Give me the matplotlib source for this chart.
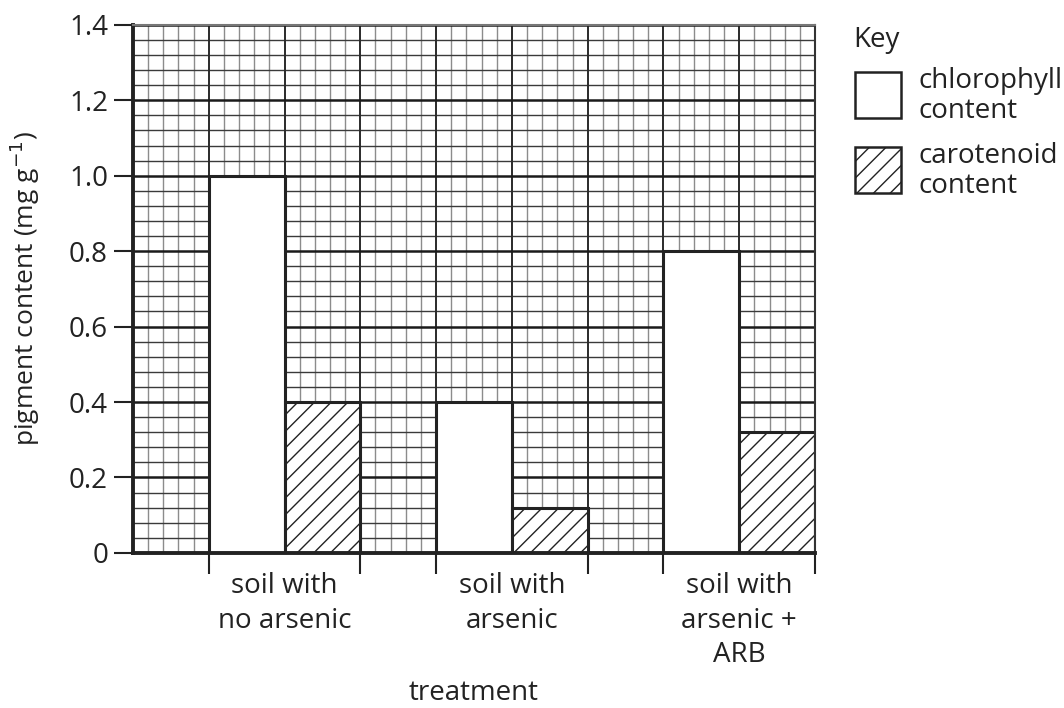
import numpy as np
import matplotlib
matplotlib.use("Agg")
import matplotlib.pyplot as plt
from matplotlib.patches import Rectangle

plt.rcParams['font.family'] = ['Open Sans', 'DejaVu Sans']
plt.rcParams['hatch.linewidth'] = 1.0

# data
treatments = ["soil with\nno arsenic", "soil with\narsenic", "soil with\narsenic +\nARB"]
chlorophyll = [1.0, 0.4, 0.8]
carotenoid = [0.4, 0.12, 0.32]
y_ticks = [0, 0.2, 0.4, 0.6, 0.8, 1.0, 1.2, 1.4]
y_ticklabels = ["0", "0.2", "0.4", "0.6", "0.8", "1.0", "1.2", "1.4"]

fs = 20
ink = "#222222"
fig = plt.figure(figsize=(10.64, 7.08), dpi=100)
ax = fig.add_axes([0.125, 0.219, 0.641, 0.746])
ax.set_xlim(0, 9)
ax.set_ylim(0, 1.4)

# graph paper background
xs = np.arange(0, 9.001, 0.2)
ys = np.arange(0, 1.401, 0.04)
minor_x = [x for x in xs if abs(x - round(x)) > 1e-6]
major_x = [x for x in xs if abs(x - round(x)) <= 1e-6]
minor_y = [y for y in ys if abs(y / 0.2 - round(y / 0.2)) > 1e-6]
major_y = [y for y in ys if abs(y / 0.2 - round(y / 0.2)) <= 1e-6]
ax.vlines(minor_x, 0, 1.4, color="#8c8c8c", lw=1.0, zorder=0)
ax.hlines(minor_y, 0, 9, color="#3a3a3a", lw=1.0, zorder=0)
ax.vlines(major_x, 0, 1.4, color="#2a2a2a", lw=1.4, zorder=0.5)
ax.hlines(major_y, 0, 9, color="#1a1a1a", lw=1.8, zorder=0.5)

# bars: group i occupies 3i..3i+3, first slot empty
centers = np.arange(len(treatments)) * 3 + 2
ax.bar(centers - 0.5, chlorophyll, width=1.0, facecolor="white",
       edgecolor=ink, lw=2.2, zorder=2)
ax.bar(centers + 0.5, carotenoid, width=1.0, facecolor="white",
       edgecolor=ink, lw=2.2, hatch="//", zorder=2)

# axes styling
for s in ["left", "bottom"]:
    ax.spines[s].set_linewidth(2.8)
    ax.spines[s].set_color(ink)
ax.spines["top"].set_color("#777777")
ax.spines["top"].set_linewidth(1.5)
ax.spines["right"].set_color("#333333")
ax.spines["right"].set_linewidth(1.5)
for s in ax.spines.values():
    s.set_zorder(3)

ax.set_yticks(y_ticks, y_ticklabels, fontsize=fs, color=ink)
ax.tick_params(axis="y", length=14, width=1.5, color=ink, pad=4)
ax.set_xticks(centers, treatments, fontsize=fs, color=ink, linespacing=1.3)
ax.tick_params(axis="x", which="major", length=0, pad=14)
ax.set_xticks([1, 3, 4, 6, 7, 9], minor=True)
ax.tick_params(axis="x", which="minor", length=15, width=1.5, color=ink)
for lab in ax.get_xticklabels():
    lab.set_verticalalignment("top")

ax.set_xlabel("treatment", fontsize=fs, color=ink)
ax.xaxis.set_label_coords(0.5, -0.238)
ax.set_ylabel("pigment content (mg g$^{-1}$)", fontsize=19, color=ink)
ax.yaxis.set_label_coords(-0.133, 0.5)

# key
fig.text(853 / 1064, 1 - 47 / 708, "Key", fontsize=fs, color=ink, va="baseline")
box_w, box_h = 46 / 1064, 46 / 708
fig.add_artist(Rectangle((855 / 1064, 1 - 118 / 708), box_w, box_h, transform=fig.transFigure,
                         facecolor="white", edgecolor=ink, lw=1.8))
fig.add_artist(Rectangle((855 / 1064, 1 - 193 / 708), box_w, box_h, transform=fig.transFigure,
                         facecolor="white", edgecolor=ink, lw=1.8, hatch="//"))
fig.text(918 / 1064, 1 - 96 / 708, "chlorophyll\ncontent", fontsize=fs, color=ink,
         va="center", linespacing=1.05)
fig.text(918 / 1064, 1 - 171 / 708, "carotenoid\ncontent", fontsize=fs, color=ink,
         va="center", linespacing=1.05)

fig.savefig("out.png", dpi=100)
